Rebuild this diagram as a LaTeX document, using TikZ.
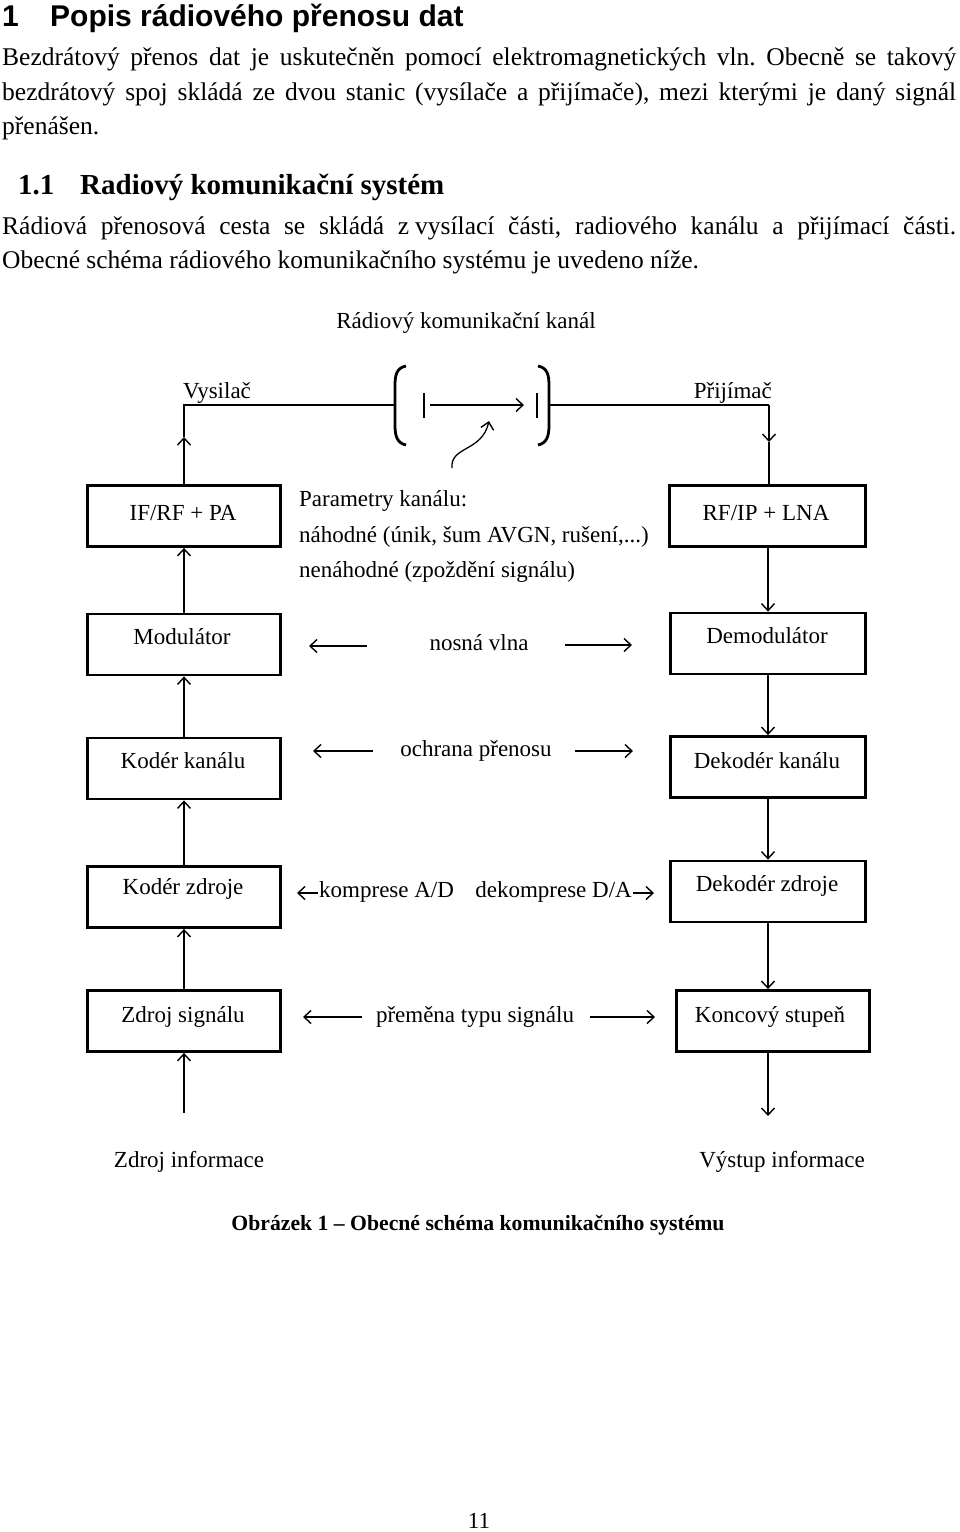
\documentclass[tikz,border=0pt]{standalone}
\usepackage{fontspec}
\setmainfont{Liberation Serif}
\newfontfamily\hdfont{Liberation Sans}
\usetikzlibrary{arrows.meta}
\frenchspacing
\begin{document}
\begin{tikzpicture}[x=1pt,y=-1pt,
 box/.style={draw, line width=2.8pt, minimum width=193pt, minimum height=61pt, inner sep=0pt},
 lbl/.style={font=\fontsize{23}{26}\selectfont, inner sep=0pt},
 body/.style={font=\fontsize{25.5}{30}\selectfont, inner sep=0pt, anchor=base west},
 wire/.style={line width=1.6pt},
 arr/.style={line width=1.6pt, -{Straight Barb[length=7pt,width=13pt,line width=1.4pt]}},
 brk/.style={line width=2.8pt},
]
\useasboundingbox (0,0) rectangle (960,1532);
\fill[white] (0,0) rectangle (960,1532);
% headings and text
\node[anchor=base west, inner sep=0pt, font=\hdfont\bfseries\fontsize{30}{34}\selectfont] (h1n) at (2,26) {1};
\node[anchor=base west, inner sep=0pt, font=\hdfont\bfseries\fontsize{30}{34}\selectfont] (h1) at (50,26) {Popis rádiového přenosu dat};
\node[body] (p1) at (2,65) {\makebox[954pt][s]{Bezdrátový přenos dat je uskutečněn pomocí elektromagnetických vln. Obecně se takový}};
\node[body] (p2) at (2,100) {\makebox[954pt][s]{bezdrátový spoj skládá ze dvou stanic (vysílače a přijímače), mezi kterými je daný signál}};
\node[body] (p3) at (2,134) {přenášen.};
\node[anchor=base west, inner sep=0pt, font=\bfseries\fontsize{29}{32}\selectfont] (h2n) at (18,194) {1.1};
\node[anchor=base west, inner sep=0pt, font=\bfseries\fontsize{29}{32}\selectfont] (h2) at (80,194) {Radiový komunikační systém};
\node[body] (p4) at (2,234) {\makebox[954pt][s]{Rádiová přenosová cesta se skládá z\hspace{6pt}vysílací části, radiového kanálu a přijímací části.}};
\node[body] (p5) at (2,268) {Obecné schéma rádiového komunikačního systému je uvedeno níže.};
% diagram top
\node[lbl] (kanal) at (466,323) {Rádiový komunikační kanál};
\node[lbl, anchor=west] (vys) at (183,393) {Vysilač};
\node[lbl, anchor=east] (prij) at (772,393) {Přijímač};
% boxes
\node[box] (ifrf) at (184,516) {};
\node[box, minimum width=196pt] (rfip) at (767.5,516) {};
\node[box] (mod) at (184,644.5) {};
\node[box, minimum width=195pt] (demod) at (768,643.5) {};
\node[box] (kk) at (184,768.5) {};
\node[box, minimum width=195pt] (dk) at (768,767) {};
\node[box] (kz) at (184,897) {};
\node[box, minimum width=195pt] (dz) at (768,891.5) {};
\node[box] (zs) at (184,1021) {};
\node[box] (ks) at (773,1021) {};
% box labels
\node[lbl] (ifrft) at (183,513) {IF/RF + PA};
\node[lbl] (rfipt) at (766,513) {RF/IP + LNA};
\node[lbl] (modt) at (182,637) {Modulátor};
\node[lbl] (demodt) at (767,636) {Demodulátor};
\node[lbl] (kkt) at (183,761) {Kodér kanálu};
\node[lbl] (dkt) at (767,761) {Dekodér kanálu};
\node[lbl] (kzt) at (183,889) {Kodér zdroje};
\node[lbl] (dzt) at (767,886) {Dekodér zdroje};
\node[lbl] (zst) at (183,1017) {Zdroj signálu};
\node[lbl] (kst) at (770,1017) {Koncový stupeň};
% channel parameters
\node[lbl, anchor=west] (par1) at (299,501) {Parametry kanálu:};
\node[lbl, anchor=west] (par2) at (299,537) {náhodné (únik, šum AVGN, rušení,...)};
\node[lbl, anchor=west] (par3) at (299,572) {nenáhodné (zpoždění signálu)};
% middle labels
\node[lbl] (nosna) at (479,643) {nosná vlna};
\node[lbl] (ochr) at (476,751) {ochrana přenosu};
\node[lbl, anchor=west] (komp) at (319,892) {komprese A/D};
\node[lbl, anchor=east] (dekomp) at (632,892) {dekomprese D/A};
\node[lbl] (prem) at (475,1017) {přeměna typu signálu};
\node[lbl] (zinf) at (189,1162) {Zdroj informace};
\node[lbl] (vinf) at (782,1162) {Výstup informace};
% coordinates
\coordinate (tl) at (184,405);
\coordinate (tlm) at (184,437);
\coordinate (tr) at (769,405);
\coordinate (trm) at (769,442);
\coordinate (lbr) at (395,405);
\coordinate (rbr) at (549,405);
\coordinate (a1) at (430,405);
\coordinate (a2) at (524,405);
\coordinate (zin) at (184,1113);
\coordinate (vout) at (768,1116);
% top wiring
\draw[arr] (ifrf.north) -- (tlm);
\draw[wire] (tlm) -- (tl) -- (lbr);
\draw[wire] (rbr) -- (tr);
\draw[arr] (tr) -- (trm);
\draw[wire] (trm) -- (trm |- rfip.north);
% brackets
\draw[brk] (406,366) .. controls (396,368) and (395,376) .. (395,386) -- (395,425) .. controls (395,436) and (397,443) .. (406,445);
\draw[brk] (538,366) .. controls (548,368) and (549,376) .. (549,386) -- (549,425) .. controls (549,436) and (547,443) .. (538,445);
\draw[wire] (424,393) -- (424,418);
\draw[wire] (537,393) -- (537,418);
\draw[arr, line width=1.3pt] (a1) -- (a2);
\coordinate (sq0) at (452,468);
\coordinate (sq1) at (489,421);
\draw[arr, line width=1.3pt] (sq0) .. controls (450,446) and (482,452) .. (sq1);
% left column
\draw[arr] (mod.north) -- (ifrf.south);
\draw[arr] (kk.north) -- (mod.south);
\draw[arr] (kz.north) -- (kk.south);
\draw[arr] (zs.north) -- (kz.south);
\draw[arr] (zin) -- (zs.south);
% right column
\draw[arr] (rfip.south -| demod.north) -- (demod.north);
\draw[arr] (demod.south) -- (dk.north);
\draw[arr] (dk.south) -- (dz.north);
\draw[arr] (dz.south) -- (dz.south |- ks.north);
\draw[arr] (dz.south |- ks.south) -- (vout);
% horizontal arrows
\coordinate (n1) at (367,646); \coordinate (n2) at (309,646);
\coordinate (n3) at (565,645); \coordinate (n4) at (632,645);
\draw[arr] (n1) -- (n2); \draw[arr] (n3) -- (n4);
\coordinate (o1) at (373,751); \coordinate (o2) at (313,751);
\coordinate (o3) at (575,751); \coordinate (o4) at (633,751);
\draw[arr] (o1) -- (o2); \draw[arr] (o3) -- (o4);
\coordinate (k1) at (318,893); \coordinate (k2) at (297,893);
\coordinate (k3) at (633,893); \coordinate (k4) at (654,893);
\draw[arr, line width=1.2pt] (k1) -- (k2); \draw[arr, line width=1.2pt] (k3) -- (k4);
\coordinate (m1) at (362,1017); \coordinate (m2) at (303,1017);
\coordinate (m3) at (590,1017); \coordinate (m4) at (655,1017);
\draw[arr] (m1) -- (m2); \draw[arr] (m3) -- (m4);
% caption and page number
\node[inner sep=0pt, font=\bfseries\fontsize{21.7}{24}\selectfont] (cap) at (478,1225) {Obrázek 1 – Obecné schéma komunikačního systému};
\node[inner sep=0pt, font=\fontsize{23}{26}\selectfont] (pg) at (479,1521) {11};
\end{tikzpicture}
\end{document}
